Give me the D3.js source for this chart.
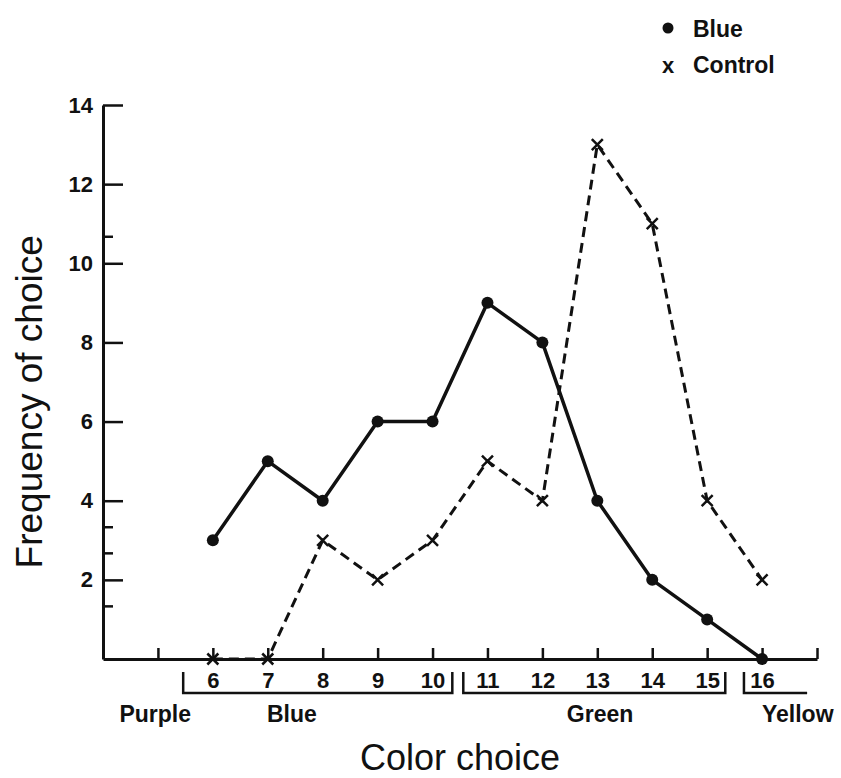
<!DOCTYPE html>
<html>
<head>
<meta charset="utf-8">
<script src="https://cdn.jsdelivr.net/npm/d3@7"></script>
<style>
  html, body { margin: 0; padding: 0; background: #fff; }
  svg { display: block; font-family: "Liberation Sans", Arial, Helvetica, sans-serif; }
</style>
</head>
<body>
<svg id="chart" width="841" height="778"></svg>
<script>
// Color choice positions along the spectrum
const categories = [6, 7, 8, 9, 10, 11, 12, 13, 14, 15, 16];
// Frequency of choice for each group
const blueValues    = [3, 5, 4, 6, 6, 9, 8, 4, 2, 1, 0];
const controlValues = [0, 0, 3, 2, 3, 5, 4, 13, 11, 4, 2];

const seriesNames = ["Blue", "Control"];

// Axis ticks
const xTickValues = [5, 6, 7, 8, 9, 10, 11, 12, 13, 14, 15, 16, 17];
const yTickValues = [2, 4, 6, 8, 10, 12, 14];
const yMinorTickValues = [1.33, 2.67, 3.33, 10.67];

// Color-name groups beneath the axis (in choice units)
const groupNames   = ["Purple", "Blue", "Green", "Yellow"];
const groupLabelAt = [4.95, 7.44, 13.05, 16.65];
const groupStart   = [null, 5.46, 10.56, 15.67];
const groupEnd     = [null, 10.36, 15.33, 16.82];
const groupClosed  = [false, true, true, false];

const svg = d3.select("#chart");

const x = d3.scaleLinear().domain([4, 17]).range([103, 817]);
const y = d3.scaleLinear().domain([0, 14]).range([659, 105]);

const ink = "#111";

// Y axis: ticks point inward, labels to the left
const yAxis = svg.append("g")
  .attr("transform", `translate(${x(4)},0)`)
  .call(d3.axisLeft(y)
    .tickValues(yTickValues)
    .tickSizeInner(-20)
    .tickSizeOuter(0)
    .tickPadding(10)
    .tickFormat(d3.format("d")));
yAxis.select(".domain").attr("stroke", ink).attr("stroke-width", 3);
yAxis.selectAll(".tick line").attr("stroke", ink).attr("stroke-width", 2.5);
yAxis.selectAll(".tick text")
  .attr("fill", ink)
  .style("font-size", "22px")
  .style("font-weight", "bold");

// minor ticks on the y axis
svg.append("g").selectAll("line")
  .data(yMinorTickValues)
  .join("line")
  .attr("x1", x(4)).attr("x2", x(4) + 10)
  .attr("y1", d => y(d)).attr("y2", d => y(d))
  .attr("stroke", ink).attr("stroke-width", 2.5);

// X axis: ticks point upward, numbers below
const xAxis = svg.append("g")
  .attr("transform", `translate(0,${y(0)})`)
  .call(d3.axisBottom(x)
    .tickValues(xTickValues)
    .tickSizeInner(-11)
    .tickSizeOuter(0)
    .tickPadding(13)
    .tickFormat(d => categories.includes(d) ? String(d) : ""));
xAxis.select(".domain").attr("stroke", ink).attr("stroke-width", 3);
xAxis.selectAll(".tick line").attr("stroke", ink).attr("stroke-width", 2.5);
xAxis.selectAll(".tick text")
  .attr("fill", ink)
  .style("font-size", "22px")
  .style("font-weight", "bold");

// Group brackets
const bracketTop = 672, bracketBottom = 693;
const brackets = svg.append("g")
  .attr("fill", "none").attr("stroke", ink).attr("stroke-width", 2.5);
groupNames.forEach((name, i) => {
  if (groupStart[i] === null) return;
  const x0 = x(groupStart[i]), x1 = x(groupEnd[i]);
  const path = groupClosed[i]
    ? `M${x0},${bracketTop}V${bracketBottom}H${x1}V${bracketTop}`
    : `M${x0},${bracketTop}V${bracketBottom}H${x1}`;
  brackets.append("path").attr("d", path);
});

// Group names
svg.append("g").selectAll("text")
  .data(groupNames)
  .join("text")
  .attr("x", (d, i) => x(groupLabelAt[i]))
  .attr("y", 722)
  .attr("text-anchor", "middle")
  .attr("fill", ink)
  .style("font-size", "23px")
  .style("font-weight", "bold")
  .text(d => d);

// Axis titles
svg.append("text")
  .attr("x", (x(4) + x(17)) / 2)
  .attr("y", 770)
  .attr("text-anchor", "middle")
  .attr("fill", ink)
  .style("font-size", "36px")
  .text("Color choice");

svg.append("text")
  .attr("transform", `translate(42,${y(6.5)}) rotate(-90)`)
  .attr("text-anchor", "middle")
  .attr("fill", ink)
  .style("font-size", "37px")
  .text("Frequency of choice");

// Lines
const line = d3.line().x(d => x(d[0])).y(d => y(d[1]));
const blueData = categories.map((c, i) => [c, blueValues[i]]);
const controlData = categories.map((c, i) => [c, controlValues[i]]);

svg.append("path")
  .datum(controlData)
  .attr("d", line)
  .attr("fill", "none")
  .attr("stroke", ink)
  .attr("stroke-width", 3)
  .attr("stroke-dasharray", "10,6");

svg.append("path")
  .datum(blueData)
  .attr("d", line)
  .attr("fill", "none")
  .attr("stroke", ink)
  .attr("stroke-width", 3.5)
  .attr("stroke-linejoin", "round");

// Markers
svg.append("g").selectAll("circle")
  .data(blueData)
  .join("circle")
  .attr("cx", d => x(d[0]))
  .attr("cy", d => y(d[1]))
  .attr("r", 6)
  .attr("fill", ink);

const cross = 5.5;
svg.append("g").selectAll("path")
  .data(controlData)
  .join("path")
  .attr("d", d => {
    const cx = x(d[0]), cy = y(d[1]);
    return `M${cx - cross},${cy - cross}L${cx + cross},${cy + cross}M${cx - cross},${cy + cross}L${cx + cross},${cy - cross}`;
  })
  .attr("stroke", ink)
  .attr("stroke-width", 2.5);

// Legend
const legend = svg.append("g");
legend.append("circle").attr("cx", 668).attr("cy", 28).attr("r", 5.5).attr("fill", ink);
legend.append("text").attr("x", 668).attr("y", 73)
  .attr("text-anchor", "middle").attr("fill", ink)
  .style("font-size", "22px").style("font-weight", "bold").text("x");
legend.selectAll("text.item")
  .data(seriesNames)
  .join("text")
  .attr("class", "item")
  .attr("x", 693)
  .attr("y", (d, i) => 37 + i * 36)
  .attr("fill", ink)
  .style("font-size", "23px")
  .style("font-weight", "bold")
  .text(d => d);
</script>
</body>
</html>
